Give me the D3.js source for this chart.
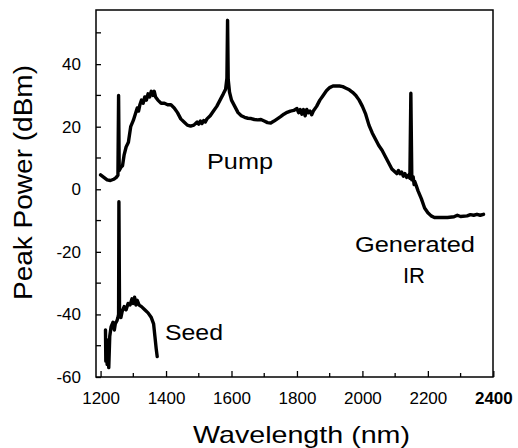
<!DOCTYPE html>
<html><head><meta charset="utf-8">
<script src="https://cdn.jsdelivr.net/npm/d3@7"></script>
<style>body{margin:0;background:#fff;} text{font-family:"Liberation Sans",Arial,sans-serif;fill:#000;}</style>
</head><body><svg id="c" width="518" height="448"></svg>
<script>
const pumpWl = [1200,1210,1220,1230,1240,1248,1253,1255,1257,1262,1267,1272,1278,1285,1292,1300,1306,1312,1316,1320,1325,1330,1335,1340,1345,1350,1355,1360,1364,1368,1375,1385,1395,1405,1415,1425,1435,1445,1455,1465,1475,1485,1495,1500,1505,1510,1515,1520,1525,1535,1545,1555,1565,1575,1582,1586,1588,1590,1594,1600,1610,1620,1630,1640,1650,1660,1670,1680,1690,1700,1710,1720,1730,1740,1750,1760,1770,1780,1790,1800,1805,1810,1815,1820,1825,1830,1835,1840,1845,1850,1860,1870,1880,1890,1900,1910,1920,1930,1940,1950,1960,1970,1980,1990,2000,2010,2020,2030,2040,2050,2060,2070,2080,2090,2100,2105,2110,2115,2120,2125,2130,2135,2140,2145,2148,2151,2155,2158,2160,2165,2170,2180,2190,2200,2210,2220,2240,2260,2280,2290,2300,2320,2330,2340,2350,2360,2370];
const pumpDbm = [4.6,3.8,3.0,2.8,3.2,3.8,4.5,30,6,7,7.5,11,13.5,15,20,22,24,26,25,27,28.5,27.5,29.5,28.5,30.5,29.5,31.3,30,31.3,29.5,28.5,27.5,27.5,27,27,26,24.5,22.5,21.5,20.5,20.2,20.5,21.5,20.8,21.8,21,22,21.5,22.5,23.5,25,26.5,28.5,30.5,32,35.5,54,35,31,28.5,26.5,24.5,23.5,23,22.7,22.6,22.3,22.2,22.3,21.8,21.3,21.2,21.8,22.5,23.2,24,24.6,25,25.2,25.8,24.5,25.5,24,25.5,23.5,25.5,24.5,25,23.8,25,26.5,28.5,30,31.5,32.5,33,33,33,32.8,32.3,31.8,31,30,28.5,26.5,24,20.5,18,16,14,12.5,10.5,8.5,6.5,5.5,5,6,5,5.5,4.2,5,3.8,4.5,3.5,30.7,3,4,1.5,2.5,1,-0.5,-3,-6,-7.5,-8.5,-9,-9,-9,-8.8,-8.3,-8.7,-8.5,-8.1,-8.3,-8,-8.3,-8];
const seedWl = [1215,1216,1218,1220,1222,1225,1228,1232,1238,1242,1245,1250,1253,1255,1256,1258,1262,1266,1272,1278,1284,1290,1296,1300,1304,1308,1312,1318,1325,1335,1345,1355,1362,1366,1370,1373];
const seedDbm = [-45,-55,-48,-56,-50,-57,-47,-44,-42.5,-45,-43,-42,-41,-40,-4,-40,-41,-39,-37.5,-38.5,-36.5,-37,-35,-36.5,-34.5,-37,-35.5,-37,-37.5,-38.5,-39.5,-41,-43,-47,-51,-53.5];
const xTicks = [1200,1400,1600,1800,2000,2200,2400];
const xMinor = [1300,1500,1700,1900,2100,2300];
const yTicks = [-60,-40,-20,0,20,40];
const yMinor = [-50,-30,-10,10,30,50];
const labels = [
  {text:"Pump", x:207, y:169, len:66, size:22},
  {text:"Generated", x:355, y:252, len:120, size:22},
  {text:"IR", x:403, y:283, len:22, size:22},
  {text:"Seed", x:165, y:340, len:58, size:22}
];

const svg = d3.select("#c");
const L=96, T=10, R=493, B=377;
const x = d3.scaleLinear().domain([1186,2399]).range([L,R]);
const y = d3.scaleLinear().domain([-60,57.3]).range([B,T]);

// frame
svg.append("rect").attr("x",L).attr("y",T).attr("width",R-L).attr("height",B-T)
  .attr("fill","none").attr("stroke","#000").attr("stroke-width",1.5);

// x axis
const gx = svg.append("g").attr("transform",`translate(0,${B})`)
  .call(d3.axisBottom(x).tickValues(xTicks).tickSizeInner(-6).tickSizeOuter(0).tickPadding(12).tickFormat(d=>String(d)));
gx.select(".domain").remove();
gx.selectAll("line").attr("stroke-width",1.3);
gx.selectAll("text").attr("font-size",17).style("font-family","Liberation Sans, Arial").attr("dy","0.9em")
  .attr("font-weight",d=>d===2400?"bold":"normal");
svg.append("g").selectAll("line").data(xMinor).join("line")
  .attr("x1",d=>x(d)).attr("x2",d=>x(d)).attr("y1",B).attr("y2",B-4).attr("stroke","#000").attr("stroke-width",1.3);

// y axis
const gy = svg.append("g").attr("transform",`translate(${L},0)`)
  .call(d3.axisLeft(y).tickValues(yTicks).tickSizeInner(-5).tickSizeOuter(0).tickPadding(15).tickFormat(d=>String(d)));
gy.select(".domain").remove();
gy.selectAll("line").attr("stroke-width",1.3);
gy.selectAll("text").attr("font-size",17).style("font-family","Liberation Sans, Arial");
svg.append("g").selectAll("line").data(yMinor).join("line")
  .attr("x1",L).attr("x2",L+5).attr("y1",d=>y(d)).attr("y2",d=>y(d)).attr("stroke","#000").attr("stroke-width",1.3);

// curves
const line = d3.line().x(d=>x(d[0])).y(d=>y(d[1]));
const pump = pumpWl.map((w,i)=>[w,pumpDbm[i]]);
const seed = seedWl.map((w,i)=>[w,seedDbm[i]]);
[pump,seed].forEach(data=>{
  svg.append("path").datum(data).attr("d",line).attr("fill","none")
    .attr("stroke","#000").attr("stroke-width",3.4).attr("stroke-linejoin","round").attr("stroke-linecap","round");
});

// annotations
svg.append("g").selectAll("text").data(labels).join("text")
  .attr("x",d=>d.x).attr("y",d=>d.y).attr("font-size",d=>d.size)
  .attr("textLength",d=>d.len).attr("lengthAdjust","spacingAndGlyphs").text(d=>d.text);

// axis titles
svg.append("text").attr("x",193).attr("y",443).attr("font-size",24)
  .attr("textLength",217).attr("lengthAdjust","spacingAndGlyphs").text("Wavelength (nm)");
svg.append("text").attr("transform","translate(32,300) rotate(-90)").attr("font-size",25)
  .attr("textLength",235).attr("lengthAdjust","spacingAndGlyphs").text("Peak Power (dBm)");
</script></body></html>
